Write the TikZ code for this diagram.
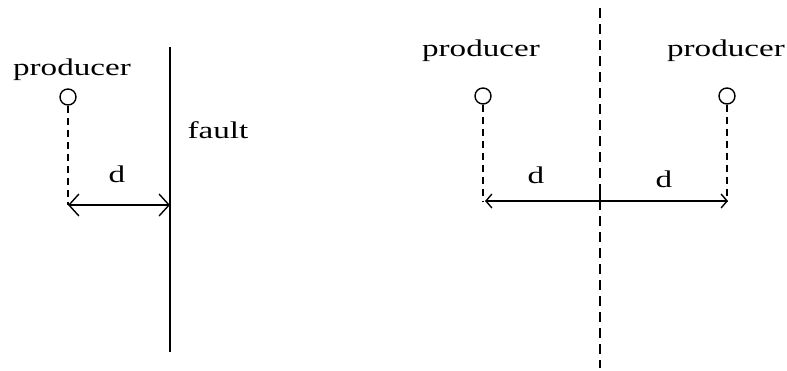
\documentclass[tikz,border=0pt]{standalone}
\usepackage{fontspec}
\newfontfamily\bmfont{Liberation Serif}[FakeStretch=1.38]
\usetikzlibrary{arrows.meta,calc}
\begin{document}
\begin{tikzpicture}[x=1pt,y=-1pt,
  lbl/.style={font=\bmfont\fontsize{24}{27}\selectfont, inner sep=0pt},
  src/.style={circle, draw, line width=1.4pt, minimum size=16pt, inner sep=0pt},
  dropline/.style={line width=1.3pt, dash pattern=on 7pt off 5pt},
  axisline/.style={line width=1.8pt, dash pattern=on 10pt off 6pt},
  dimline/.style={line width=1.8pt, {Straight Barb[length=10pt,width=22pt,line width=1.4pt]}-{Straight Barb[length=10pt,width=22pt,line width=1.4pt]}},
  dimlineS/.style={line width=1.8pt, {Straight Barb[length=6pt,width=14pt,line width=1.4pt]}-{Straight Barb[length=6pt,width=14pt,line width=1.4pt]}}]
\useasboundingbox (0,0) rectangle (787,370);
% left diagram
\node[lbl] (p1) at (72,70) {producer};
\node[src] (c1) at (68,97) {};
\coordinate (b1) at (68,205);
\coordinate (ftop) at (170,47);
\coordinate (fbot) at (170,352);
\coordinate (f1) at (170,205);
\draw[line width=1.8pt] (ftop) -- (fbot);
\node[lbl] (fault) at (218,130) {fault};
\draw[dropline] (c1.south) -- (b1);
\draw[dimline] (b1) -- (f1);
\node[lbl] (d1) at (117,174) {d};
% right diagram
\coordinate (atop) at (600,8);
\coordinate (abot) at (600,368);
\draw[axisline] (atop) -- (abot);
\coordinate (mid) at (600,201);
\draw[line width=2pt] ($(mid)+(0,-7)$) -- ($(mid)+(0,7)$);
\node[lbl] (p2) at (481,51) {producer};
\node[lbl] (p3) at (726,51) {producer};
\node[src] (c2) at (483,96) {};
\node[src] (c3) at (727,96) {};
\coordinate (b2) at (485,201);
\coordinate (b3) at (728,201);
\draw[dropline] (c2.south) -- (c2.south |- b2);
\draw[dropline] (c3.south) -- (c3.south |- b3);
\draw[dimlineS] (b2) -- (b3);
\node[lbl] (d2) at (536,175) {d};
\node[lbl] (d3) at (664,179) {d};
\end{tikzpicture}
\end{document}
